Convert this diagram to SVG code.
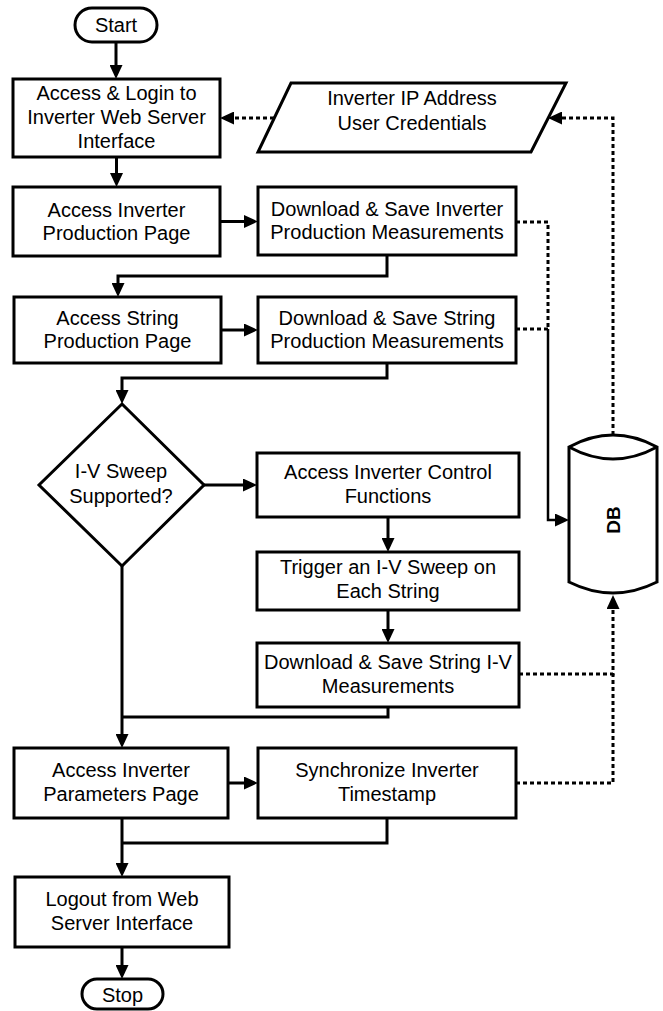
<svg xmlns="http://www.w3.org/2000/svg" width="663" height="1011" viewBox="0 0 663 1011">
  <style>
    .shape { fill: #fff; stroke: #000; stroke-width: 3; stroke-linejoin: miter; }
    .lbl { font-family: "Liberation Sans", Arial, Helvetica, sans-serif; font-size: 20px; fill: #000; text-anchor: middle; }
    .db { font-weight: bold; font-size: 19px; }
    .flow { fill: none; stroke: #000; stroke-width: 3; marker-end: url(#ah); }
    .flow.plain { marker-end: none; }
    .data { fill: none; stroke: #000; stroke-width: 3; stroke-dasharray: 4 3; marker-end: url(#ah); }
    .data.plain { marker-end: none; }
    .feed { fill: none; stroke: #000; stroke-width: 2.5; marker-end: url(#ah); }
  </style>
  <defs>
    <marker id="ah" markerUnits="userSpaceOnUse" markerWidth="15" markerHeight="13" refX="4" refY="6.5" orient="auto">
      <path d="M0,0 L14,6.5 L0,13 Z" fill="#000"/>
    </marker>
  </defs>

  <rect width="663" height="1011" fill="#fff"/>

  <!-- connectors -->
  <g id="connectors">
    <path class="flow" d="M116,42 V69"/>
    <path class="flow" d="M116.5,157 V177"/>
    <path class="flow" d="M220,221.5 H248"/>
    <path class="flow" d="M387,255 V276 H118 V287"/>
    <path class="flow" d="M221,330 H248"/>
    <path class="flow" d="M387,363 V378 H122 V394"/>
    <path class="flow" d="M204,485 H247"/>
    <path class="flow" d="M388,517 V542"/>
    <path class="flow" d="M388,610 V633"/>
    <path class="flow plain" d="M388,707 V717 H122"/>
    <path class="flow" d="M122,566 V738"/>
    <path class="flow" d="M228,783 H248"/>
    <path class="flow plain" d="M387,818 V843 H122"/>
    <path class="flow" d="M122,818 V867"/>
    <path class="flow" d="M122,947 V969"/>

    <path class="data" d="M274,118 H230"/>
    <path class="data" d="M613,435 V118 H558"/>
    <path class="data plain" d="M516,222 H548 V329"/>
    <path class="data plain" d="M516,329 H548"/>
    <path class="feed" d="M548,329 V520 H559"/>
    <path class="data" d="M519,674 H613 V605"/>
    <path class="data plain" d="M516,783 H613 V674"/>
  </g>

  <g id="start">
    <rect class="shape" x="75" y="8" width="82" height="34" rx="17"/>
    <text class="lbl" x="116" y="32">Start</text>
  </g>

  <g id="login">
    <rect class="shape" x="13" y="79" width="207" height="78"/>
    <text class="lbl" x="116.5" y="100">Access &amp; Login to</text>
    <text class="lbl" x="116.5" y="124">Inverter Web Server</text>
    <text class="lbl" x="116.5" y="148">Interface</text>
  </g>

  <g id="credentials">
    <polygon class="shape" points="291,83 566,83 531,152 258,152"/>
    <text class="lbl" x="412" y="105">Inverter IP Address</text>
    <text class="lbl" x="412" y="130">User Credentials</text>
  </g>

  <g id="inverter-production-page">
    <rect class="shape" x="13" y="187" width="207" height="69"/>
    <text class="lbl" x="116.5" y="216.5">Access Inverter</text>
    <text class="lbl" x="116.5" y="239.5">Production Page</text>
  </g>

  <g id="save-inverter-production">
    <rect class="shape" x="258" y="187" width="258" height="68"/>
    <text class="lbl" x="387" y="216">Download &amp; Save Inverter</text>
    <text class="lbl" x="387" y="239">Production Measurements</text>
  </g>

  <g id="string-production-page">
    <rect class="shape" x="14" y="297" width="207" height="66"/>
    <text class="lbl" x="117.5" y="325">Access String</text>
    <text class="lbl" x="117.5" y="348">Production Page</text>
  </g>

  <g id="save-string-production">
    <rect class="shape" x="258" y="297" width="258" height="66"/>
    <text class="lbl" x="387" y="325">Download &amp; Save String</text>
    <text class="lbl" x="387" y="348">Production Measurements</text>
  </g>

  <g id="sweep-decision">
    <polygon class="shape" points="122,404 204,485 122,566 39,485"/>
    <text class="lbl" x="121" y="478">I-V Sweep</text>
    <text class="lbl" x="121" y="503">Supported?</text>
  </g>

  <g id="control-functions">
    <rect class="shape" x="257" y="453" width="262" height="64"/>
    <text class="lbl" x="388" y="479">Access Inverter Control</text>
    <text class="lbl" x="388" y="503">Functions</text>
  </g>

  <g id="trigger-sweep">
    <rect class="shape" x="257" y="552" width="262" height="58"/>
    <text class="lbl" x="388" y="574">Trigger an I-V Sweep on</text>
    <text class="lbl" x="388" y="598">Each String</text>
  </g>

  <g id="save-iv">
    <rect class="shape" x="257" y="643" width="262" height="64"/>
    <text class="lbl" x="388" y="669">Download &amp; Save String I-V</text>
    <text class="lbl" x="388" y="693">Measurements</text>
  </g>

  <g id="parameters-page">
    <rect class="shape" x="14" y="748" width="214" height="70"/>
    <text class="lbl" x="121" y="777">Access Inverter</text>
    <text class="lbl" x="121" y="801">Parameters Page</text>
  </g>

  <g id="sync-timestamp">
    <rect class="shape" x="258" y="748" width="258" height="70"/>
    <text class="lbl" x="387" y="777">Synchronize Inverter</text>
    <text class="lbl" x="387" y="801">Timestamp</text>
  </g>

  <g id="logout">
    <rect class="shape" x="15" y="877" width="214" height="70"/>
    <text class="lbl" x="122" y="906">Logout from Web</text>
    <text class="lbl" x="122" y="930">Server Interface</text>
  </g>

  <g id="stop">
    <rect class="shape" x="82" y="979" width="81" height="30" rx="15"/>
    <text class="lbl" x="122.5" y="1002">Stop</text>
  </g>

  <g id="database">
    <path class="shape" d="M569,447 V582 Q613,604 657,582 V447 Q613,423 569,447 Z"/>
    <path class="shape" d="M569,447 Q613,471 657,447" style="fill:none"/>
    <text class="lbl db" x="620" y="520" transform="rotate(-90 620 520)">DB</text>
  </g>
</svg>
